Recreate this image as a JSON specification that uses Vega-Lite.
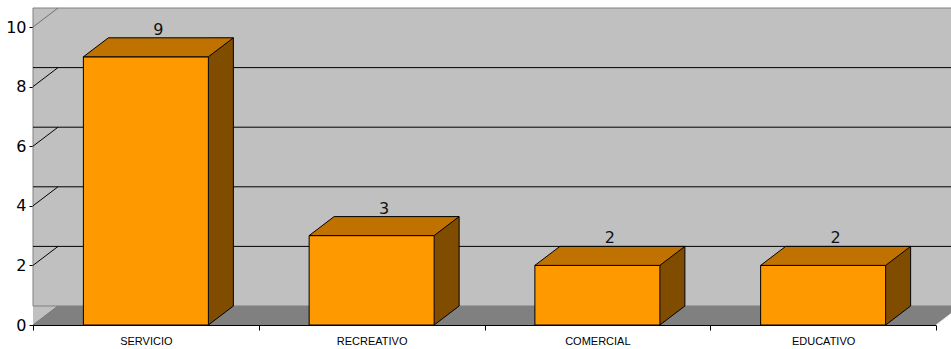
{
  "$schema": "https://vega.github.io/schema/vega-lite/v6.json",
  "width": 903,
  "height": 298,
  "autosize": {"type": "none"},
  "padding": {"left": 33, "top": 27, "right": 15, "bottom": 24},
  "background": "white",
  "config": {
    "view": {"stroke": null},
    "axisX": {"domainColor": "black", "tickColor": "black", "tickSize": 5, "labelFont": "Liberation Sans", "labelFontSize": 11, "labelColor": "black", "labelPadding": 5, "labelAngle": 0, "tickBand": "extent", "grid": false, "zindex": 1},
    "axisY": {"domainColor": "black", "tickColor": "black", "tickSize": 4, "labelFont": "DejaVu Sans", "labelFontSize": 16, "labelColor": "black", "labelPadding": 3, "grid": false, "zindex": 1}
  },
  "datasets": {
    "bars": [
      {"cat": "SERVICIO", "value": 9},
      {"cat": "RECREATIVO", "value": 3},
      {"cat": "COMERCIAL", "value": 2},
      {"cat": "EDUCATIVO", "value": 2}
    ],
    "grid": [{"v": 2}, {"v": 4}, {"v": 6}, {"v": 8}],
    "frame": [{"k": 1}]
  },
  "layer": [
    {
      "data": {"name": "bars"},
      "mark": {"type": "bar", "width": 125, "fill": "#FF9900", "stroke": "black", "strokeWidth": 1, "opacity": 0},
      "encoding": {
        "x": {"field": "cat", "type": "nominal", "sort": null, "scale": {"type": "band", "paddingInner": 0, "paddingOuter": 0}, "title": null},
        "y": {"field": "value", "type": "quantitative", "scale": {"domain": [0, 10], "nice": false, "zero": true}, "axis": {"values": [0, 2, 4, 6, 8, 10]}, "title": null}
      }
    },
    {
      "data": {"name": "frame"},
      "mark": {"type": "point", "shape": "M0,0 L0,-298 L25,-317 L25,-19 Z", "size": 4, "filled": true, "fill": "#C0C0C0", "opacity": 1, "strokeWidth": 0},
      "encoding": {
        "x": {"datum": "SERVICIO", "type": "nominal", "bandPosition": 0, "title": null},
        "y": {"datum": 0, "type": "quantitative", "title": null}
      }
    },
    {
      "data": {"name": "frame"},
      "mark": {"type": "rect", "fill": "#C0C0C0", "stroke": "#808080", "strokeWidth": 1, "xOffset": 25, "x2Offset": 25, "yOffset": -19, "y2Offset": -19},
      "encoding": {
        "y": {"datum": 0, "type": "quantitative", "title": null},
        "y2": {"datum": 10}
      }
    },
    {
      "data": {"name": "frame"},
      "mark": {"type": "point", "shape": "M0,0 L25,-19 L928,-19 L903,0 Z", "size": 4, "filled": true, "fill": "#808080", "opacity": 1, "strokeWidth": 0},
      "encoding": {
        "x": {"datum": "SERVICIO", "type": "nominal", "bandPosition": 0, "title": null},
        "y": {"datum": 0, "type": "quantitative", "title": null}
      }
    },
    {
      "data": {"name": "frame"},
      "mark": {"type": "point", "shape": "M0,0 L25,-19 M0,-298 L25,-317", "size": 4, "filled": false, "stroke": "#707070", "strokeWidth": 1, "opacity": 1},
      "encoding": {
        "x": {"datum": "SERVICIO", "type": "nominal", "bandPosition": 0, "title": null},
        "y": {"datum": 0, "type": "quantitative", "title": null}
      }
    },
    {
      "data": {"name": "frame"},
      "mark": {"type": "point", "shape": "M903,0 L928,-19", "size": 4, "filled": false, "stroke": "#E8E8E8", "strokeWidth": 1, "opacity": 1},
      "encoding": {
        "x": {"datum": "SERVICIO", "type": "nominal", "bandPosition": 0, "title": null},
        "y": {"datum": 0, "type": "quantitative", "title": null}
      }
    },
    {
      "data": {"name": "grid"},
      "mark": {"type": "point", "shape": "M0,0 L25,-19", "size": 4, "filled": false, "stroke": "black", "strokeWidth": 1, "opacity": 1},
      "encoding": {
        "x": {"datum": "SERVICIO", "type": "nominal", "bandPosition": 0, "title": null},
        "y": {"field": "v", "type": "quantitative", "title": null}
      }
    },
    {
      "data": {"name": "grid"},
      "mark": {"type": "rule", "stroke": "black", "strokeWidth": 1, "xOffset": 25, "x2Offset": 25, "yOffset": -19, "y2Offset": -19},
      "encoding": {
        "y": {"field": "v", "type": "quantitative", "title": null}
      }
    },
    {
      "data": {"name": "bars"},
      "mark": {"type": "bar", "width": 25, "xOffset": 75, "yOffset": -19, "y2Offset": -19, "fill": "#7F4C00", "strokeWidth": 0},
      "encoding": {
        "x": {"field": "cat", "type": "nominal", "sort": null, "title": null},
        "y": {"field": "value", "type": "quantitative", "title": null},
        "y2": {"datum": 0}
      }
    },
    {
      "data": {"name": "bars"},
      "mark": {"type": "point", "shape": "M62.5,0 L62.5,-19 L87.5,-19 Z", "size": 4, "filled": true, "fill": "#7F4C00", "opacity": 1, "strokeWidth": 0},
      "encoding": {
        "x": {"field": "cat", "type": "nominal", "sort": null, "title": null},
        "y": {"datum": 0, "type": "quantitative", "title": null}
      }
    },
    {
      "data": {"name": "bars"},
      "mark": {"type": "rule", "stroke": "black", "strokeWidth": 1, "xOffset": 87.5, "yOffset": -19, "y2Offset": -19},
      "encoding": {
        "x": {"field": "cat", "type": "nominal", "sort": null, "title": null},
        "y": {"field": "value", "type": "quantitative", "title": null},
        "y2": {"datum": 0}
      }
    },
    {
      "data": {"name": "bars"},
      "mark": {"type": "point", "shape": "M62.5,0 L87.5,-19", "size": 4, "filled": false, "stroke": "black", "strokeWidth": 1, "opacity": 1},
      "encoding": {
        "x": {"field": "cat", "type": "nominal", "sort": null, "title": null},
        "y": {"datum": 0, "type": "quantitative", "title": null}
      }
    },
    {
      "data": {"name": "bars"},
      "mark": {"type": "bar", "width": 125, "fill": "#FF9900", "stroke": "black", "strokeWidth": 1},
      "encoding": {
        "x": {"field": "cat", "type": "nominal", "sort": null, "title": null},
        "y": {"field": "value", "type": "quantitative", "title": null}
      }
    },
    {
      "data": {"name": "bars"},
      "mark": {"type": "point", "shape": "M-62.5,0 L62.5,0 L87.5,-19 L-37.5,-19 Z", "size": 4, "filled": true, "fill": "#C07200", "stroke": "black", "strokeWidth": 1, "opacity": 1},
      "encoding": {
        "x": {"field": "cat", "type": "nominal", "sort": null, "title": null},
        "y": {"field": "value", "type": "quantitative", "title": null}
      }
    },
    {
      "data": {"name": "bars"},
      "mark": {"type": "text", "font": "DejaVu Sans", "fontSize": 16, "dx": 12.5, "dy": -22, "baseline": "alphabetic", "align": "center", "fill": "#111111"},
      "encoding": {
        "x": {"field": "cat", "type": "nominal", "sort": null, "title": null},
        "y": {"field": "value", "type": "quantitative", "title": null},
        "text": {"field": "value", "type": "quantitative"}
      }
    }
  ]
}
